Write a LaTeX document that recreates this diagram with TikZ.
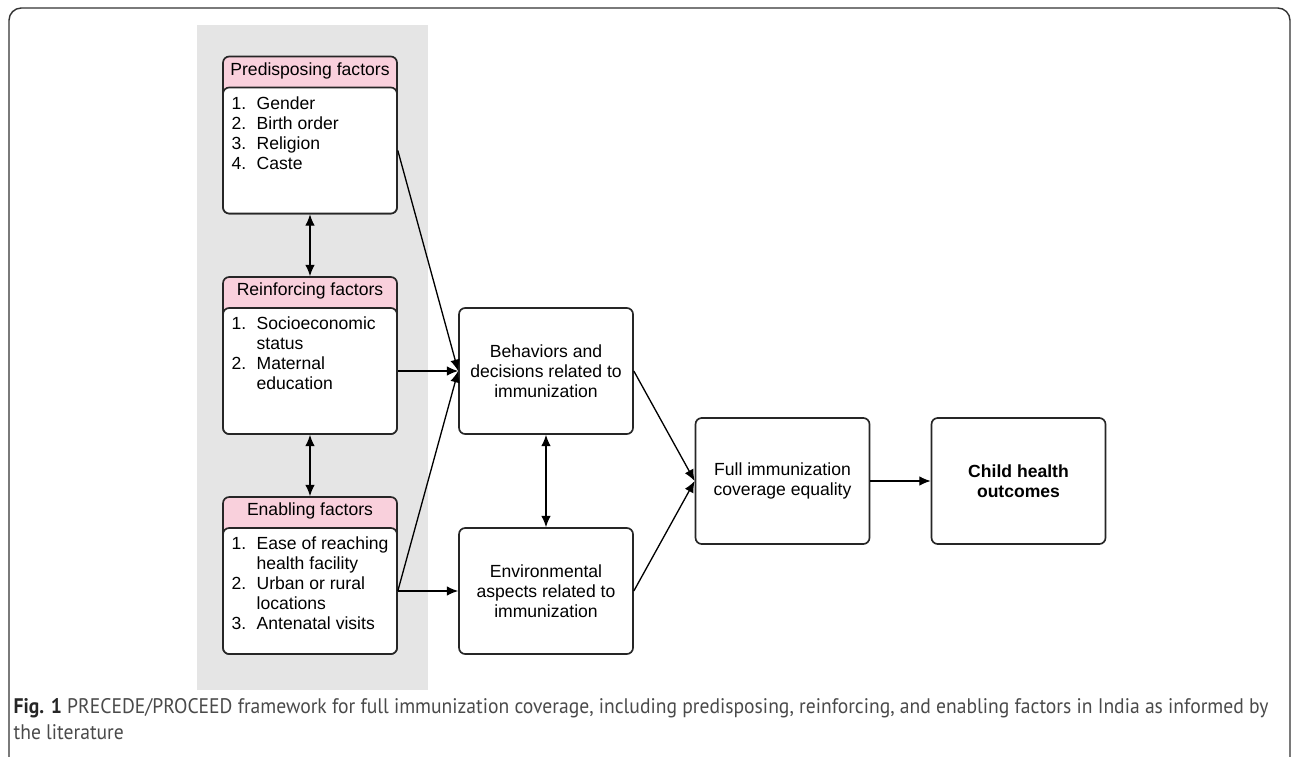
\documentclass[tikz,border=0pt]{standalone}
\usepackage{fontspec}
\setmainfont{Liberation Sans}
\newfontfamily\capfont[FakeStretch=0.93]{PT Sans}
\usetikzlibrary{arrows.meta}
\definecolor{pinkhd}{HTML}{F9D0DC}
\definecolor{bggray}{HTML}{E5E5E5}
\definecolor{capgray}{HTML}{4A4A4A}
\tikzset{
  factorhd/.style={draw=black!85,fill=pinkhd,rounded corners=3.5pt,line width=0.95pt,
    minimum width=3.48cm,minimum height=3.14cm,inner sep=0pt},
  factorbody/.style={draw=black!85,fill=white,rounded corners=3.5pt,line width=0.95pt,
    minimum width=3.48cm,minimum height=2.52cm,inner sep=0pt},
  outbox/.style={draw=black!85,fill=white,rounded corners=3.5pt,line width=0.95pt,
    minimum width=3.48cm,minimum height=2.52cm,align=center,inner sep=0pt},
  factorlist/.style={anchor=north west,inner sep=0pt},
}
\newcommand{\factoritems}[1]{\begin{tabular}{@{}p{0.5cm}@{}l@{}}#1\end{tabular}}
\begin{document}
\begin{tikzpicture}[x=0.02cm,y=-0.02cm,line width=0.75pt,>={Latex[length=6.5pt,width=5.5pt]},
  font=\fontsize{10}{11.4}\selectfont]
\useasboundingbox (0,0) rectangle (1292,757);
\draw[black!80,line width=0.8pt,rounded corners=7pt] (9,8) rectangle (1290,770);
\fill[bggray] (197,25) rectangle (428,690);
% factor boxes
\node[factorhd] (prehd) at (310,135) {};
\node[factorbody] (pre) at (310,150.5) {};
\node (pretitle) at (310,71) {Predisposing factors};
\node[factorlist] (prelist) at (231,94.5) {\factoritems{1. & Gender\\ 2. & Birth order\\ 3. & Religion\\ 4. & Caste}};
\node[factorhd] (reinhd) at (310,355.5) {};
\node[factorbody] (rein) at (310,371) {};
\node (reintitle) at (310,291) {Reinforcing factors};
\node[factorlist] (reinlist) at (231,314.5) {\factoritems{1. & Socioeconomic\\ & status\\ 2. & Maternal\\ & education}};
\node[factorhd] (enabhd) at (310,575.5) {};
\node[factorbody] (enab) at (310,591) {};
\node (enabtitle) at (310,511) {Enabling factors};
\node[factorlist] (enablist) at (231,534.5) {\factoritems{1. & Ease of reaching\\ & health facility\\ 2. & Urban or rural\\ & locations\\ 3. & Antenatal visits}};
% middle and right
\node[outbox] (beh) at (546,371) {Behaviors and\\decisions related to\\immunization};
\node[outbox] (env) at (546,591) {Environmental\\aspects related to\\immunization};
\node[outbox] (full) at (782.5,481) {Full immunization\\coverage equality};
\node[outbox,font=\fontsize{10}{11.4}\selectfont\bfseries] (child) at (1018.5,481) {Child health\\outcomes};
\draw[<->] (pre.south) -- (reinhd.north);
\draw[<->] (rein.south) -- (enabhd.north);
\draw[<->] (beh.south) -- (env.north);
\draw[->] (pre.east) -- (beh.west);
\draw[->] (rein.east) -- (beh.west);
\draw[->] (enab.east) -- (beh.west);
\draw[->] (enab.east) -- (env.west);
\draw[->] (beh.east) -- (full.west);
\draw[->] (env.east) -- (full.west);
\draw[->] (full.east) -- (child.west);
% caption
\node[anchor=north west,align=left,inner sep=0pt,text=capgray,font=\capfont\fontsize{12}{14.5}\selectfont]
  (caption) at (13,698) {\textcolor{black!85}{\textbf{Fig. 1}} PRECEDE/PROCEED framework for full immunization coverage, including predisposing, reinforcing, and enabling factors in India as informed by\\the literature};
\end{tikzpicture}
\end{document}
